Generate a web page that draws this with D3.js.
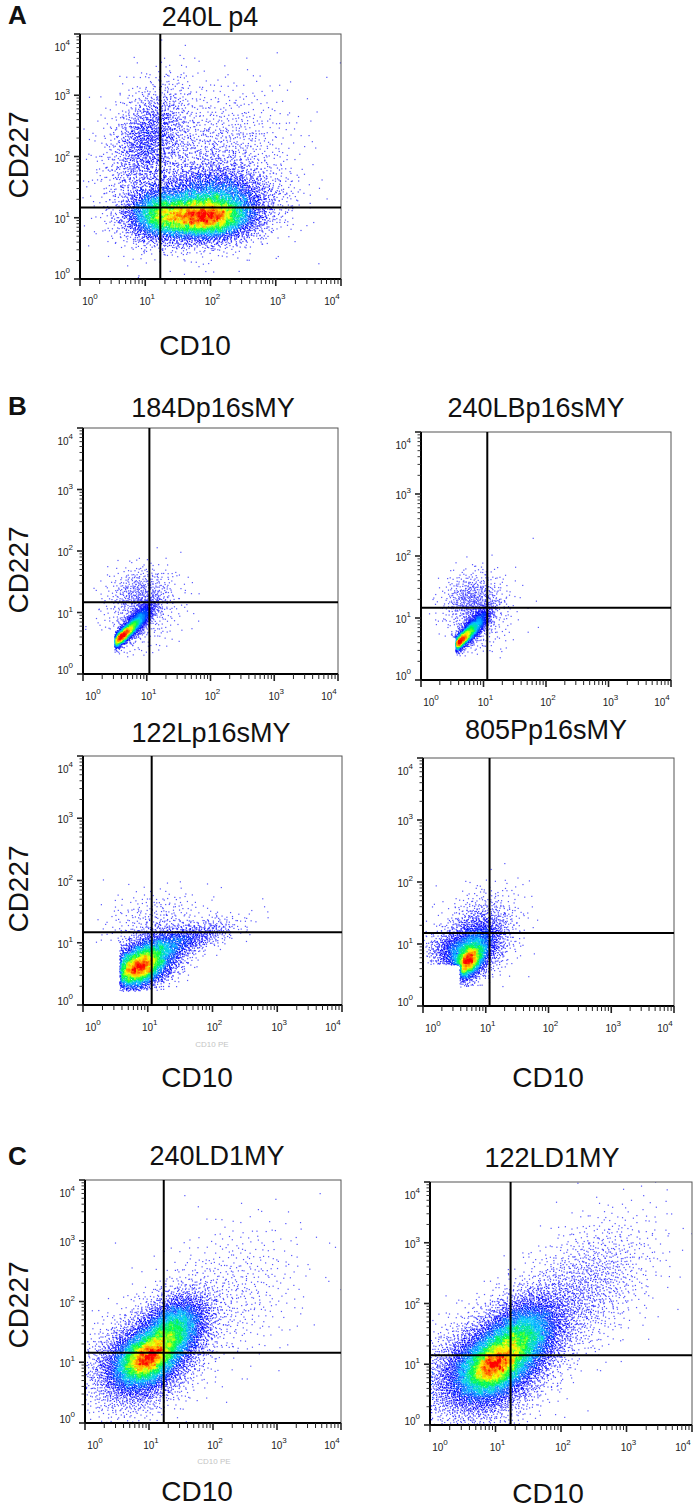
<!DOCTYPE html>
<html><head><meta charset="utf-8">
<script src="https://cdn.jsdelivr.net/npm/d3@7"></script>
<style>body{margin:0;background:#fff}svg{display:block}</style>
</head><body>
<svg id="c" width="695" height="1511"></svg>
<script>
// ---------------- DATA ----------------
const panelTitles = ["240L p4","184Dp16sMY","240LBp16sMY","122Lp16sMY","805Pp16sMY","240LD1MY","122LD1MY"];
const tickValues = [1, 10, 100, 1000, 10000];
const tickExponents = ["0","1","2","3","4"];
const axisX = "CD10";
const axisY = "CD227";
// quadrant gate positions (linear units)
const gateCD10  = [17, 11, 11.5, 11.5, 11.5, 17, 17];
const gateCD227 = [14.7, 14.7, 14.7, 14.7, 15, 14.3, 14.1];
// event populations: [log10 CD10 centre, log10 CD227 centre, sd log CD10, sd log CD227, correlation, events]
const popA  = [[1.95,1.00,0.42,0.21,0.05,4200],[1.20,1.05,0.30,0.24,0.00,2000],[2.10,1.40,0.50,0.25,0.00,1800],
               [1.05,2.30,0.32,0.48,0.40,1500],[2.10,2.00,0.55,0.55,0.20,1000],[1.50,1.50,0.90,0.80,0.00,400]];
const popB1 = [[0.60,0.60,0.13,0.13,0.85,1300],[0.85,0.85,0.15,0.17,0.75,1000],[0.90,1.30,0.25,0.23,0.10,480],[0.90,0.90,0.35,0.35,0.30,350]];
const popB2 = [[0.60,0.60,0.13,0.13,0.85,1200],[0.85,0.85,0.15,0.17,0.75,1000],[0.80,1.30,0.23,0.23,0.10,520],[0.95,0.95,0.30,0.35,0.30,300]];
const popB3 = [[0.82,0.55,0.25,0.18,0.30,1800],[1.00,0.75,0.32,0.24,0.40,2100],[1.60,1.05,0.42,0.18,0.70,700],[1.10,1.40,0.40,0.25,0.20,250]];
const popB4 = [[0.72,0.70,0.15,0.17,0.50,1300],[0.80,0.95,0.27,0.27,0.30,1700],[0.95,1.30,0.32,0.32,0.20,500],[0.45,0.90,0.22,0.15,0.00,400]];
const popC1 = [[0.95,1.05,0.25,0.22,0.30,1500],[0.90,1.00,0.40,0.38,0.25,4000],[1.40,1.55,0.30,0.32,0.30,2800],[2.20,2.10,0.60,0.60,0.30,600]];
const popC2 = [[0.95,0.95,0.25,0.25,0.30,1500],[0.85,0.90,0.45,0.42,0.25,5000],[1.40,1.45,0.35,0.38,0.30,3800],[2.30,2.20,0.55,0.60,0.50,1500]];
const populations = [popA, popB1, popB2, popB3, popB4, popC1, popC2];
// compensation cut-off corner: events with log CD10 < a AND log CD227 < b are absent
const cutCorner = [null, [0.50,0.67], [0.56,0.68], [0.57,1.00], [0.59,0.66], null, null];
// lowest log CD227 recorded
const floorCD227 = [-9, 0.25, 0.35, 0.22, 0.30, -9, -9];

// ---------------- LAYOUT ----------------
const boxes = [
  {l:80, t:34,  r:341, b:279},
  {l:83, t:428, r:338, b:674},
  {l:421,t:432, r:671, b:680},
  {l:83, t:756, r:342, b:1005},
  {l:423,t:758, r:674, b:1006},
  {l:85, t:1180,r:341, b:1423},
  {l:430,t:1182,r:692, b:1425}
];
const titlePos = [[210,26],[213,417],[536,417],[211,742],[546,739],[217,1165],[552,1167]];
const letters = [["A",8,24],["B",8,415],["C",8,1165]];
const yLabelPos = [155,570,889,1305];
const xLabelPos = [[195,355],[197,1087],[548,1087],[197,1501],[548,1503]];
const faintPos = [[212,1047],[214,1464]];

const svg = d3.select("#c");
const font = "'Liberation Sans', Arial, sans-serif";

const colorScale = d3.scaleLinear()
  .domain([0, 0.14, 0.36, 0.55, 0.72, 0.85, 0.97])
  .range(["#5a5aff","#0000ff","#00c8ff","#00ff40","#ffff00","#ff9000","#ff0000"])
  .clamp(true);

function halton(i, b){ let f = 1, r = 0; while (i > 0){ f /= b; r += f * (i % b); i = Math.floor(i / b); } return r; }

function eventsFor(p){
  const out = [];
  populations[p].forEach((pop, ci) => {
    const [cx, cy, sx, sy, rho, n] = pop;
    const seed = 1 + ci * 7919 + p * 104729;
    for (let k = 0; k < n; k++){
      const i = seed + k;
      const u1 = halton(i, 2), u2 = halton(i, 3);
      const rr = Math.sqrt(-2 * Math.log(u1));
      const z1 = rr * Math.cos(2 * Math.PI * u2), z2 = rr * Math.sin(2 * Math.PI * u2);
      let lx = cx + sx * z1;
      let ly = cy + sy * (rho * z1 + Math.sqrt(1 - rho * rho) * z2);
      const cc = cutCorner[p];
      if (cc && lx < cc[0] && ly < cc[1]) continue;
      if (ly < floorCD227[p]) continue;
      if (lx > 4.05 || ly > 4.05) continue;
      lx = Math.max(0, Math.min(4, lx)); ly = Math.max(0, Math.min(4, ly));
      out.push([Math.pow(10, lx), Math.pow(10, ly)]);
    }
  });
  return out;
}

boxes.forEach((bx, p) => {
  const x = d3.scaleLog().domain([1, 1e4]).range([bx.l, bx.r]);
  const y = d3.scaleLog().domain([1, 1e4]).range([bx.b, bx.t]);
  const g = svg.append("g");

  // events & local-density colouring
  const ev = eventsFor(p);
  const cell = 1.5, W = Math.ceil((bx.r - bx.l) / cell) + 1, H = Math.ceil((bx.b - bx.t) / cell) + 1;
  const grid = new Float32Array(W * H);
  const idx = ev.map(e => {
    const gx = Math.min(W - 1, Math.floor((x(e[0]) - bx.l) / cell));
    const gy = Math.min(H - 1, Math.floor((y(e[1]) - bx.t) / cell));
    grid[gy * W + gx] += 1; return [gx, gy];
  });
  const dens = idx.map(([gx, gy]) => {
    let s = 0;
    for (let dj = -1; dj <= 1; dj++) for (let di = -1; di <= 1; di++){
      const i = gx + di, j = gy + dj;
      if (i >= 0 && i < W && j >= 0 && j < H) s += grid[j * W + i];
    }
    return s;
  });
  const sorted = dens.slice().sort((a, b) => a - b);
  const ref = sorted[Math.floor(sorted.length * 0.995)] || 1;
  const pts = ev.map((e, k) => ({e, d: Math.pow(Math.min(1, dens[k] / ref), 1.25)})).sort((a, b) => a.d - b.d);

  const clipId = "clip" + p;
  svg.append("clipPath").attr("id", clipId).append("rect")
    .attr("x", bx.l).attr("y", bx.t).attr("width", bx.r - bx.l).attr("height", bx.b - bx.t);
  g.append("g").attr("clip-path", `url(#${clipId})`).selectAll("rect").data(pts).join("rect")
    .attr("x", d => x(d.e[0]) - 0.6).attr("y", d => y(d.e[1]) - 0.6)
    .attr("width", 1.2).attr("height", 1.2)
    .attr("fill", d => colorScale(d.d));

  // frame
  g.append("rect").attr("x", bx.l).attr("y", bx.t).attr("width", bx.r - bx.l).attr("height", bx.b - bx.t)
    .attr("fill", "none").attr("stroke", "#555").attr("stroke-width", 1);
  // quadrant gate
  g.append("line").attr("x1", x(gateCD10[p])).attr("x2", x(gateCD10[p])).attr("y1", bx.t).attr("y2", bx.b)
    .attr("stroke", "#000").attr("stroke-width", 2);
  g.append("line").attr("x1", bx.l).attr("x2", bx.r).attr("y1", y(gateCD227[p])).attr("y2", y(gateCD227[p]))
    .attr("stroke", "#000").attr("stroke-width", 2);

  // axes lines
  g.append("line").attr("x1", bx.l).attr("x2", bx.l).attr("y1", bx.t).attr("y2", bx.b + 1).attr("stroke", "#000").attr("stroke-width", 2);
  g.append("line").attr("x1", bx.l - 1).attr("x2", bx.r).attr("y1", bx.b).attr("y2", bx.b).attr("stroke", "#000").attr("stroke-width", 2);

  const allTicks = x.ticks();
  const isMajor = v => tickValues.indexOf(v) >= 0;
  g.append("g").selectAll("line").data(allTicks).join("line")
    .attr("x1", v => x(v)).attr("x2", v => x(v)).attr("y1", bx.b).attr("y2", v => bx.b + (isMajor(v) ? 7 : 5))
    .attr("stroke", "#222").attr("stroke-width", v => isMajor(v) ? 1.6 : 1);
  g.append("g").selectAll("line").data(y.ticks()).join("line")
    .attr("y1", v => y(v)).attr("y2", v => y(v)).attr("x1", bx.l).attr("x2", v => bx.l - (isMajor(v) ? 6 : 3.5))
    .attr("stroke", "#222").attr("stroke-width", v => isMajor(v) ? 1.6 : 0.9);

  // x tick labels
  const xOff = [10, 2, 2, 2, -9];
  tickValues.forEach((v, k) => {
    const t = g.append("text").attr("x", x(v) + xOff[k]).attr("y", bx.b + 26)
      .attr("text-anchor", "middle").attr("font-family", font).attr("font-size", 10).attr("fill", "#222");
    t.append("tspan").text("10");
    t.append("tspan").attr("dy", -6).attr("font-size", 8).text(tickExponents[k]);
  });
  // y tick labels
  const yOff = [0, 5, 5, 5, 17];
  tickValues.forEach((v, k) => {
    const t = g.append("text").attr("x", bx.l - 10).attr("y", y(v) + yOff[k])
      .attr("text-anchor", "end").attr("font-family", font).attr("font-size", 10).attr("fill", "#222");
    t.append("tspan").text("10");
    t.append("tspan").attr("dy", -6).attr("font-size", 8).text(tickExponents[k]);
  });

  // title
  svg.append("text").attr("x", titlePos[p][0]).attr("y", titlePos[p][1]).attr("text-anchor", "middle")
    .attr("font-family", font).attr("font-size", 27).attr("fill", "#111").text(panelTitles[p]);
});

letters.forEach(([t, lx, ly]) => svg.append("text").attr("x", lx).attr("y", ly)
  .attr("font-family", font).attr("font-weight", "bold").attr("font-size", 26).attr("fill", "#111").text(t));
yLabelPos.forEach(cy => svg.append("text").attr("transform", `translate(28,${cy}) rotate(-90)`)
  .attr("text-anchor", "middle").attr("font-family", font).attr("font-size", 28).attr("fill", "#111").text(axisY));
xLabelPos.forEach(([cx, cy]) => svg.append("text").attr("x", cx).attr("y", cy)
  .attr("text-anchor", "middle").attr("font-family", font).attr("font-size", 28).attr("fill", "#111").text(axisX));
faintPos.forEach(([cx, cy]) => svg.append("text").attr("x", cx).attr("y", cy)
  .attr("text-anchor", "middle").attr("font-family", font).attr("font-size", 8).attr("fill", "#c4c4c4").text("CD10 PE"));
</script>
</body></html>
